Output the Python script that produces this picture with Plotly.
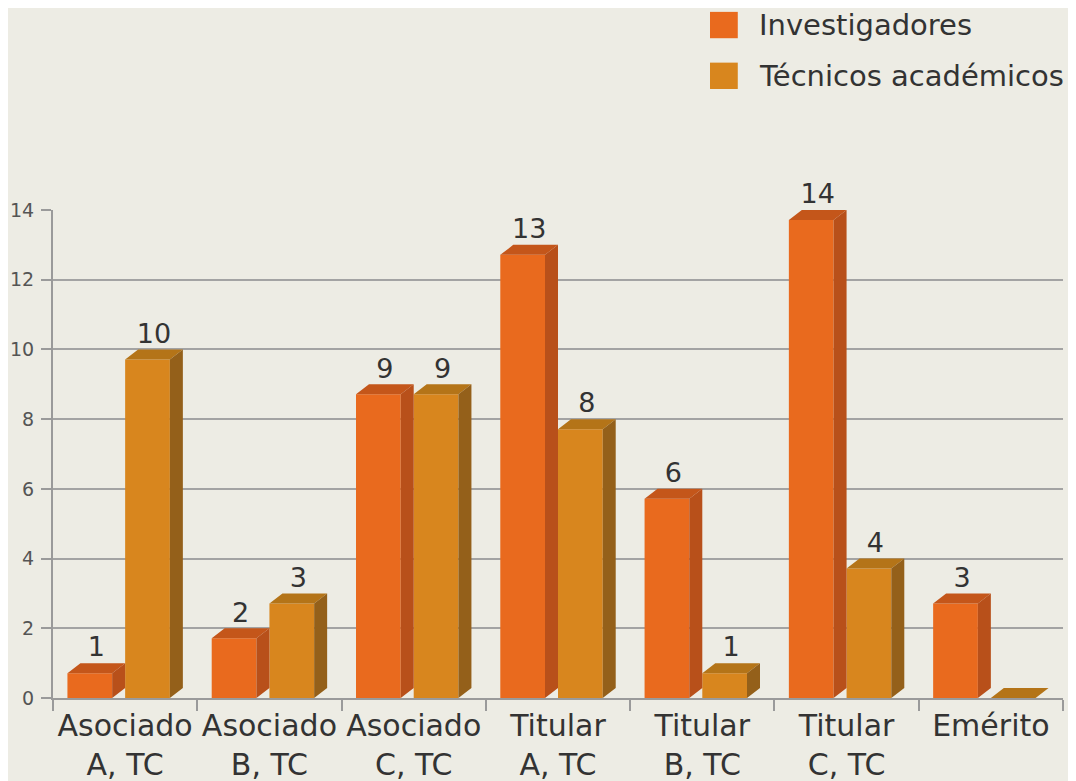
import plotly.graph_objects as go

categorias = ["Asociado<br>A, TC", "Asociado<br>B, TC", "Asociado<br>C, TC",
              "Titular<br>A, TC", "Titular<br>B, TC", "Titular<br>C, TC", "Emérito"]
investigadores = [1, 2, 9, 13, 6, 14, 3]
tecnicos = [10, 3, 9, 8, 1, 4, 0]
series = ["Investigadores", "Técnicos académicos"]

# front / top / side colours per series
colores = {
    "Investigadores": ("#E96A1E", "#C4561A", "#B8501A"),
    "Técnicos académicos": ("#D8861E", "#B47418", "#94601A"),
}
BG = "#EDECE4"
FONT = "DejaVu Sans, Verdana, sans-serif"

W = 0.31      # bar front width (category units)
DX = 0.09     # depth in x
DY = 0.287    # depth in y (value units)
offsets = [-0.4, 0.0]

fig = go.Figure()
idx = list(range(len(categorias)))

for nombre, vals, off in zip(series, [investigadores, tecnicos], offsets):
    front, top, side = colores[nombre]
    ft = [max(v - DY, 0) for v in vals]
    fig.add_bar(x=idx, y=ft, offset=off, width=W, marker=dict(color=front, line_width=0),
                showlegend=False, hoverinfo="skip")
    tx, ty, sx, sy = [], [], [], []
    for i, h in zip(idx, ft):
        x0 = i + off
        x1 = x0 + W
        tx += [x0, x0 + DX, x1 + DX, x1, x0, None]
        ty += [h, h + DY, h + DY, h, h, None]
        sx += [x1, x1, x1 + DX, x1 + DX, x1, None]
        sy += [0, h, h + DY, DY, 0, None]
    fig.add_scatter(x=tx, y=ty, fill="toself", fillcolor=top, mode="lines",
                    line=dict(width=0, color=top), showlegend=False, hoverinfo="skip")
    fig.add_scatter(x=sx, y=sy, fill="toself", fillcolor=side, mode="lines",
                    line=dict(width=0, color=side), showlegend=False, hoverinfo="skip")
    lx = [i + off + (W + DX) / 2 for i, v in zip(idx, vals) if v > 0]
    ly = [h + DY for h, v in zip(ft, vals) if v > 0]
    lt = [str(v) for v in vals if v > 0]
    fig.add_scatter(x=lx, y=ly, mode="text", text=lt, textposition="top center",
                    textfont=dict(size=27, color="#333333", family=FONT),
                    cliponaxis=False, showlegend=False, hoverinfo="skip")

# legend drawn by hand (big squares)
leg_y = [1.379, 1.275]
for nombre, yc in zip(series, leg_y):
    fig.add_shape(type="rect", xref="paper", yref="paper",
                  x0=0.6505, x1=0.678, y0=yc - 0.027, y1=yc + 0.027,
                  fillcolor=colores[nombre][0], line_width=0)
    fig.add_annotation(text=nombre, xref="paper", yref="paper", x=0.697, y=yc,
                       xanchor="left", yanchor="middle", showarrow=False,
                       font=dict(size=29, color="#333333", family=FONT))

fig.update_layout(
    width=1068, height=773,
    paper_bgcolor=BG, plot_bgcolor=BG,
    margin=dict(l=45, r=13, t=202, b=83),
    barmode="overlay",
    showlegend=False,
    font=dict(family=FONT, color="#333333"),
)
fig.update_xaxes(
    range=[-0.5, 6.5], tickvals=idx, ticktext=categorias, ticks="",
    tickfont=dict(size=30, color="#333333"), automargin=False,
    showgrid=False, zeroline=False,
    showline=True, linecolor="#9a9a9a", linewidth=2,
    minor=dict(tickvals=[i - 0.5 for i in range(len(categorias) + 1)],
               ticks="outside", ticklen=11, tickcolor="#9a9a9a", tickwidth=2, showgrid=False),
)
fig.update_yaxes(
    range=[0, 14], tickvals=list(range(0, 15, 2)), ticks="outside", ticklen=10,
    tickcolor="#9a9a9a", tickwidth=2, ticklabelstandoff=3, automargin=False,
    tickfont=dict(size=19, color="#555555"),
    showgrid=True, gridcolor="#a3a3a3", gridwidth=2, zeroline=False,
    showline=True, linecolor="#9a9a9a", linewidth=2,
)

fig.write_html("out.html")
